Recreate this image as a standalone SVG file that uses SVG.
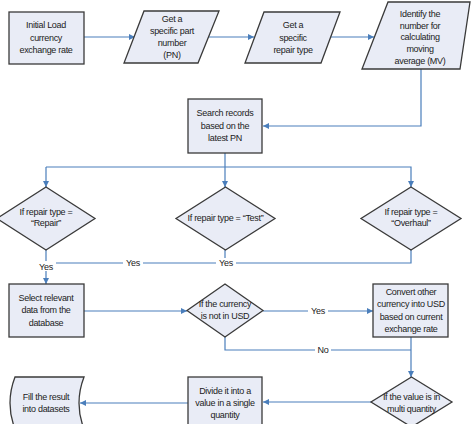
<svg xmlns="http://www.w3.org/2000/svg" width="472" height="424" viewBox="0 0 472 424">
<defs>
<style>
.n{fill:#e9ecf6;stroke:#3a3a3a;stroke-width:1.3}
.c{fill:none;stroke:#4a7ebb;stroke-width:1.2}
.t{font-family:"Liberation Sans",Arial,sans-serif;font-size:9px;letter-spacing:-0.3px;fill:#222;text-anchor:middle}
.lb{fill:#fff}
</style>
<marker id="a" markerUnits="userSpaceOnUse" markerWidth="7" markerHeight="7" refX="6" refY="3" orient="auto">
<path d="M0,0 L6,3 L0,6 z" fill="#4a7ebb"/>
</marker>
</defs>
<rect width="472" height="424" fill="#fff"/>
<g id="connectors">
<path class="c" d="M84,37 H135" marker-end="url(#a)"/>
<path class="c" d="M209,37 H254" marker-end="url(#a)"/>
<path class="c" d="M331,37 H374" marker-end="url(#a)"/>
<path class="c" d="M421,69 V126 H263" marker-end="url(#a)"/>
<path class="c" d="M225,153 V187" marker-end="url(#a)"/>
<path class="c" d="M46,167 H411 V187" marker-end="url(#a)"/>
<path class="c" d="M46,167 V187" marker-end="url(#a)"/>
<path class="c" d="M225,250 V263"/>
<path class="c" d="M411,250 V263 H46"/>
<path class="c" d="M46,250 V284" marker-end="url(#a)"/>
<path class="c" d="M84,311 H187" marker-end="url(#a)"/>
<path class="c" d="M263,311 H373" marker-end="url(#a)"/>
<path class="c" d="M225,337 V350 H411"/>
<path class="c" d="M411,337 V377" marker-end="url(#a)"/>
<path class="c" d="M371,402 H263" marker-end="url(#a)"/>
<path class="c" d="M188,403 H80" marker-end="url(#a)"/>
</g>
<g id="labels">
<rect class="lb" x="36" y="261" width="20" height="10"/>
<text class="t" x="46" y="270">Yes</text>
<rect class="lb" x="123" y="258" width="20" height="10"/>
<text class="t" x="133" y="266">Yes</text>
<rect class="lb" x="216" y="258" width="20" height="10"/>
<text class="t" x="226" y="266">Yes</text>
<rect class="lb" x="308" y="306" width="20" height="10"/>
<text class="t" x="318" y="314">Yes</text>
<rect class="lb" x="315" y="345" width="16" height="10"/>
<text class="t" x="323" y="353">No</text>
</g>
<g id="n1">
<rect class="n" x="9" y="12" width="75" height="52"/>
<text class="t" x="46" y="28">Initial Load</text>
<text class="t" x="46" y="41">currency</text>
<text class="t" x="46" y="53">exchange rate</text>
</g>
<g id="n2">
<polygon class="n" points="144,11 219,11 198,63 124,63"/>
<text class="t" x="172" y="22">Get a</text>
<text class="t" x="172" y="34">specific part</text>
<text class="t" x="172" y="46">number</text>
<text class="t" x="172" y="58">(PN)</text>
</g>
<g id="n3">
<polygon class="n" points="264,12 340,12 321,63 245,63"/>
<text class="t" x="293" y="28">Get a</text>
<text class="t" x="293" y="41">specific</text>
<text class="t" x="293" y="53">repair type</text>
</g>
<g id="n4">
<polygon class="n" points="388,2 470,2 460,69 362,69"/>
<text class="t" x="420" y="17">Identify the</text>
<text class="t" x="420" y="29">number for</text>
<text class="t" x="420" y="40">calculating</text>
<text class="t" x="420" y="52">moving</text>
<text class="t" x="420" y="64">average (MV)</text>
</g>
<g id="n5">
<rect class="n" x="188" y="99" width="74" height="54"/>
<text class="t" x="225" y="116">Search records</text>
<text class="t" x="225" y="129">based on the</text>
<text class="t" x="225" y="141">latest PN</text>
</g>
<g id="d1">
<polygon class="n" points="46,187 95,218.5 46,250 -3,218.5"/>
<text class="t" x="46" y="215">If repair type =</text>
<text class="t" x="46" y="226">“Repair”</text>
</g>
<g id="d2">
<polygon class="n" points="225.5,187 275,218.5 225.5,250 176,218.5"/>
<text class="t" x="225.5" y="221">If repair type = “Test”</text>
</g>
<g id="d3">
<polygon class="n" points="411,187 461,218.5 411,250 361,218.5"/>
<text class="t" x="411" y="215">If repair type =</text>
<text class="t" x="411" y="226">“Overhaul”</text>
</g>
<g id="n6">
<rect class="n" x="9" y="284" width="75" height="53"/>
<text class="t" x="46" y="301">Select relevant</text>
<text class="t" x="46" y="313">data from the</text>
<text class="t" x="46" y="326">database</text>
</g>
<g id="d4">
<polygon class="n" points="225,284 263,310.5 225,337 187,310.5"/>
<text class="t" x="225" y="307">If the currency</text>
<text class="t" x="225" y="319">is not in USD</text>
</g>
<g id="n7">
<rect class="n" x="373" y="284" width="75" height="53"/>
<text class="t" x="411" y="295">Convert other</text>
<text class="t" x="411" y="307">currency into USD</text>
<text class="t" x="411" y="320">based on current</text>
<text class="t" x="411" y="332">exchange rate</text>
</g>
<g id="d5">
<polygon class="n" points="411.5,377 452,402 411.5,427 371,402"/>
<text class="t" x="411.5" y="400">If the value is in</text>
<text class="t" x="411.5" y="412">multi quantity</text>
</g>
<g id="n8">
<rect class="n" x="188" y="377" width="74" height="53"/>
<text class="t" x="225" y="394">Divide it into a</text>
<text class="t" x="225" y="406">value in a single</text>
<text class="t" x="225" y="418">quantity</text>
</g>
<g id="n9">
<path class="n" d="M15,377 H84 Q74,403 84,429 H15 Q5,403 15,377 Z"/>
<text class="t" x="46" y="400">Fill the result</text>
<text class="t" x="46" y="412">into datasets</text>
</g>
</svg>
